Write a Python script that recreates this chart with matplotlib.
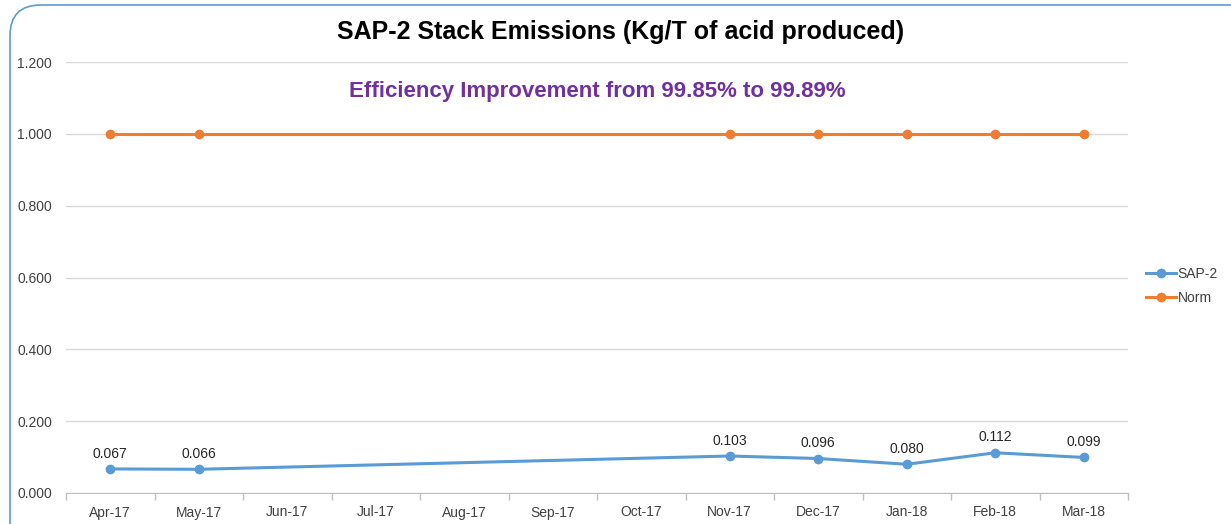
import numpy as np
import matplotlib.pyplot as plt
from matplotlib.patches import FancyBboxPatch

plt.rcParams['font.family'] = ['Liberation Sans', 'DejaVu Sans']

months = ['Apr-17', 'May-17', 'Jun-17', 'Jul-17', 'Aug-17', 'Sep-17',
          'Oct-17', 'Nov-17', 'Dec-17', 'Jan-18', 'Feb-18', 'Mar-18']
# months with data (Jun-Oct missing, line joins across the gap)
data_months = ['Apr-17', 'May-17', 'Nov-17', 'Dec-17', 'Jan-18', 'Feb-18', 'Mar-18']
sap2 = [0.067, 0.066, 0.103, 0.096, 0.080, 0.112, 0.099]
norm = [1.0, 1.0, 1.0, 1.0, 1.0, 1.0, 1.0]

blue = '#5B9BD5'
orange = '#ED7D31'

fig = plt.figure(figsize=(12.31, 5.24), dpi=100)
ax = fig.add_axes([66 / 1231, 1 - 493 / 524, (1128 - 66) / 1231, (493 - 62) / 524])

# outer chart border
border = FancyBboxPatch((10 / 1231, -0.2), 1.2, 1 - 5 / 524 + 0.2,
                        boxstyle='round,pad=0,rounding_size=0.025',
                        transform=fig.transFigure, fill=False,
                        edgecolor=blue, linewidth=1.2, mutation_aspect=1231 / 524)
fig.patches.append(border)

x = [months.index(m) for m in data_months]
ax.plot(x, sap2, color=blue, lw=2.2, marker='o', ms=6, label='SAP-2', zorder=3)
ax.plot(x, norm, color=orange, lw=2.2, marker='o', ms=6, label='Norm', zorder=3)

for xi, v in zip(x, sap2):
    ax.annotate(f'{v:.3f}', (xi, v), xytext=(0, 6), textcoords='offset points',
                ha='center', va='bottom', fontsize=10, color='#262626')

ax.set_xlim(-0.5, len(months) - 0.5)
ax.set_ylim(0, 1.2)
ax.set_yticks(np.arange(0, 1.21, 0.2))
ax.set_yticklabels([f'{t:.3f}' for t in np.arange(0, 1.21, 0.2)])
ax.set_xticks(range(len(months)))
ax.set_xticklabels(months)
ax.set_xticks(np.arange(-0.5, len(months), 1), minor=True)
ax.tick_params(axis='x', which='major', length=0, pad=9, labelsize=10, labelcolor='#404040')
ax.tick_params(axis='x', which='minor', length=5, color='#BFBFBF', width=1)
ax.tick_params(axis='y', length=0, pad=10, labelsize=10, labelcolor='#404040')
ax.grid(axis='y', color='#D9D9D9', lw=1)
ax.set_axisbelow(True)
for s in ['top', 'right', 'left']:
    ax.spines[s].set_visible(False)
ax.spines['bottom'].set_color('#BFBFBF')

fig.text(621 / 1231, 1 - 32 / 524, 'SAP-2 Stack Emissions (Kg/T of acid produced)',
         ha='center', va='center', fontsize=18, fontweight='bold', color='black')
ax.text(597 / 1231, 1 - 92 / 524, 'Efficiency Improvement from 99.85% to 99.89%',
        transform=fig.transFigure, ha='center', va='center', fontsize=16,
        fontweight='bold', color='#7030A0')

ax.legend(loc='center left', bbox_to_anchor=(1.005, 0.48), frameon=False,
          fontsize=10, handlelength=2.2, handletextpad=0.1, labelspacing=0.75,
          labelcolor='#404040')
ax.patch.set_alpha(0)

fig.savefig('out.png', dpi=100)
